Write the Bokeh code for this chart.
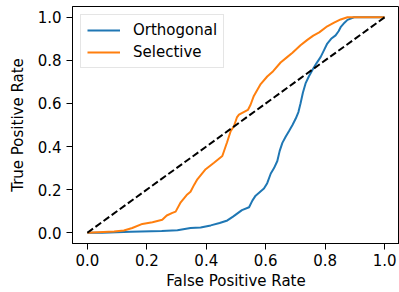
from bokeh.plotting import figure
from bokeh.models import Range1d, FixedTicker, PrintfTickFormatter, Legend, LegendItem
from bokeh.embed import file_html
from bokeh.resources import INLINE

ortho_fpr = [0.0, 0.05, 0.146, 0.25, 0.303, 0.347, 0.381, 0.415, 0.445, 0.471, 0.49, 0.505, 0.52, 0.544,
             0.555, 0.566, 0.594, 0.605, 0.617, 0.628, 0.639, 0.647, 0.656, 0.667, 0.678, 0.69, 0.701,
             0.71, 0.717, 0.725, 0.734, 0.745, 0.757, 0.77, 0.785, 0.797, 0.807, 0.82, 0.835, 0.845,
             0.852, 0.865, 0.875, 0.897, 1.0]
ortho_tpr = [0.0, 0.0, 0.005, 0.008, 0.011, 0.022, 0.024, 0.034, 0.045, 0.057, 0.075, 0.09, 0.105, 0.118,
             0.149, 0.172, 0.205, 0.23, 0.275, 0.3, 0.333, 0.38, 0.417, 0.445, 0.471, 0.5, 0.53,
             0.56, 0.6, 0.65, 0.693, 0.725, 0.755, 0.785, 0.816, 0.85, 0.878, 0.9, 0.916, 0.935,
             0.954, 0.975, 0.988, 1.0, 1.0]

sel_fpr = [0.0, 0.09, 0.123, 0.151, 0.185, 0.219, 0.252, 0.267, 0.286, 0.297, 0.314, 0.334, 0.347,
           0.359, 0.37, 0.398, 0.426, 0.454, 0.465, 0.47, 0.482, 0.493, 0.503, 0.51, 0.54, 0.549,
           0.56, 0.583, 0.605, 0.625, 0.65, 0.672, 0.69, 0.717, 0.74, 0.76, 0.78, 0.807, 0.83,
           0.852, 0.875, 1.0]
sel_tpr = [0.0, 0.006, 0.01, 0.022, 0.041, 0.049, 0.06, 0.08, 0.092, 0.098, 0.141, 0.175, 0.19,
           0.222, 0.248, 0.295, 0.325, 0.356, 0.40, 0.42, 0.471, 0.494, 0.535, 0.548, 0.57, 0.594,
           0.635, 0.69, 0.725, 0.75, 0.79, 0.815, 0.835, 0.87, 0.895, 0.915, 0.93, 0.958, 0.975,
           0.99, 1.0, 1.0]

diag = [0.0, 1.0]
ticks = [0.0, 0.2, 0.4, 0.6, 0.8, 1.0]

FONT = "DejaVu Sans"
FS = "15px"

p = figure(width=399, height=292, output_backend="svg", toolbar_location=None,
           x_range=Range1d(-0.05, 1.05), y_range=Range1d(-0.05, 1.05),
           min_border_left=72, min_border_right=0, min_border_top=6, min_border_bottom=47)

r1 = p.line(ortho_fpr, ortho_tpr, line_color="#1f77b4", line_width=2)
r2 = p.line(sel_fpr, sel_tpr, line_color="#ff7f0e", line_width=2)
p.line(diag, diag, line_color="black", line_width=2, line_dash="7 3")

p.xgrid.visible = False
p.ygrid.visible = False
p.outline_line_color = "black"
p.outline_line_width = 1

for ax in (p.xaxis[0], p.yaxis[0]):
    ax.ticker = FixedTicker(ticks=ticks)
    ax.formatter = PrintfTickFormatter(format="%.1f")
    ax.major_tick_out = 6
    ax.major_tick_in = 0
    ax.minor_tick_out = 0
    ax.minor_tick_in = 0
    ax.axis_line_color = "black"
    ax.major_tick_line_color = "black"
    ax.major_label_text_font = FONT
    ax.major_label_text_font_size = FS
    ax.major_label_text_color = "black"
    ax.axis_label_text_font = FONT
    ax.axis_label_text_font_size = FS
    ax.axis_label_text_font_style = "normal"
    ax.axis_label_text_color = "black"

p.xaxis.axis_label = "False Positive Rate"
p.yaxis.axis_label = "True Positive Rate"
p.xaxis.major_label_standoff = 4
p.xaxis.axis_label_standoff = 3
p.yaxis.major_label_standoff = 5
p.yaxis.axis_label_standoff = 8

legend = Legend(items=[LegendItem(label="Orthogonal", renderers=[r1]),
                       LegendItem(label="Selective", renderers=[r2])],
                location="top_left", margin=8, padding=6, spacing=4,
                glyph_width=33, glyph_height=18, label_height=18, label_standoff=13,
                label_text_font=FONT, label_text_font_size=FS, label_text_color="black",
                border_line_color="#cccccc", border_line_width=1,
                background_fill_color="white", background_fill_alpha=0.8)
p.add_layout(legend)

open("out.html", "w").write(file_html(p, INLINE))
